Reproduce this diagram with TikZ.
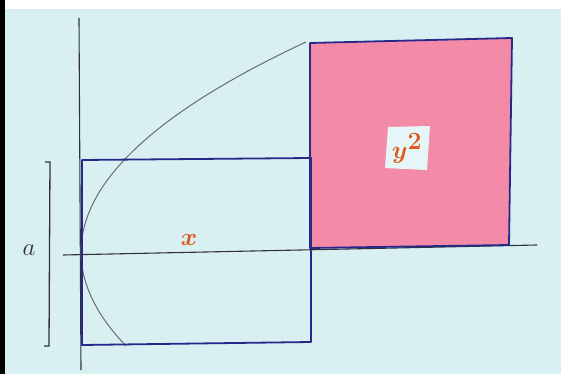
\documentclass[tikz,border=0pt]{standalone}
\usepackage{bm}
\begin{document}
\definecolor{paper}{RGB}{216,240,242}
\definecolor{patch}{RGB}{230,246,246}
\definecolor{pinkfill}{RGB}{243,138,168}
\definecolor{navy}{RGB}{40,40,140}
\definecolor{pen}{RGB}{50,50,50}
\definecolor{lbl}{RGB}{222,88,30}
\begin{tikzpicture}[x=1pt,y=-1pt,
  axis/.style={pen,line width=1.1pt},
  boxline/.style={navy,line width=1.8pt,line join=round},
  curve/.style={gray!85!black,line width=1pt},
  label/.style={lbl,inner sep=0pt}]
\useasboundingbox (0,0) rectangle (561,374);
\fill[paper] (0,0) rectangle (561,374);
\fill[white] (0,0) rectangle (561,9);
\fill[black] (0,0) rectangle (5,374);
% coordinates
\coordinate (axT) at (79,18);
\coordinate (axB) at (81,370);
\coordinate (axL) at (63,255);
\coordinate (axR) at (537,245);
\coordinate (r1) at (82,160);
\coordinate (r2) at (311,158);
\coordinate (r3) at (311,342);
\coordinate (r4) at (82,345);
\coordinate (s1) at (310,43);
\coordinate (s2) at (512,38);
\coordinate (s3) at (509,245);
\coordinate (s4) at (310,248);
\coordinate (p1) at (388,127);
\coordinate (p2) at (430,126);
\coordinate (p3) at (427,170);
\coordinate (p4) at (385,168);
\coordinate (b1) at (45,162);
\coordinate (b2) at (50,162);
\coordinate (b3) at (49,346);
\coordinate (b4) at (44,346);
% pink square fill and blank patch
\fill[pinkfill] (s1) -- (s2) -- (s3) -- (s4) -- cycle;
\fill[patch] (p1) -- (p2) -- (p3) -- (p4) -- cycle;
% axes
\draw[axis] (axT) -- (axB);
\draw[axis] (axL) -- (axR);
% parabola
\draw[curve] plot[domain=42:346,samples=80,variable=\t,smooth] ({81+0.51*((\t-252)/10)^2},\t);
% rectangles
\draw[boxline] (r1) -- (r2) -- (r3) -- (r4) -- cycle;
\draw[boxline] (s1) -- (s2) -- (s3) -- (s4) -- cycle;
% bracket for a
\draw[axis,line width=1.3pt] (b1) -- (b2) -- (b3) -- (b4);
% labels
\node[label,font=\fontsize{34}{34}\selectfont] (xl) at (189,240) {$\bm{x}$};
\node[label,font=\fontsize{40}{40}\selectfont] (yl) at (407,148) {$\bm{y}^{\bm{2}}$};
\node[label,text=pen,font=\fontsize{30}{30}\selectfont] (al) at (29,250) {$a$};
\end{tikzpicture}
\end{document}
